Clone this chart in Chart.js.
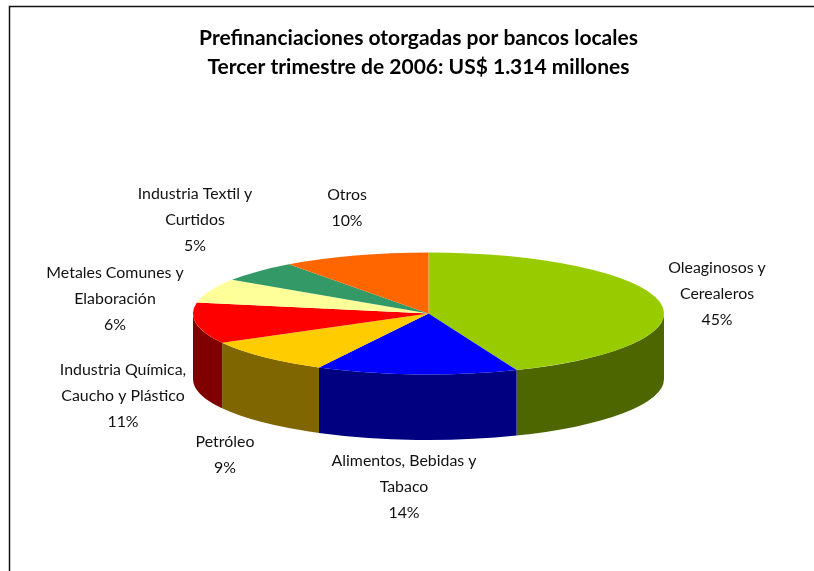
<!DOCTYPE html>
<html><head><meta charset="utf-8">
<style>html,body{margin:0;padding:0;background:#fff}canvas{display:block}</style>
<script src="https://cdn.jsdelivr.net/npm/chart.js@4"></script></head>
<body><canvas id="c" width="814" height="571"></canvas>
<script>
const titleLines = ["Prefinanciaciones otorgadas por bancos locales","Tercer trimestre de 2006: US$ 1.314 millones"];
const categories = [["Oleaginosos y","Cerealeros"],["Alimentos, Bebidas y","Tabaco"],["Petróleo"],["Industria Química,","Caucho y Plástico"],["Metales Comunes y","Elaboración"],["Industria Textil y","Curtidos"],["Otros"]];
const shownPercents = ["45%","14%","9%","11%","6%","5%","10%"];
const sliceValues = [43.9,13.8,9.3,10.9,6.4,5.6,10.1];
const topColors = ["#99CC00","#0000FF","#FFCC00","#FF0000","#FFFF99","#339966","#FF6600"];
const sideColors = ["#4D6600","#000080","#806600","#800000","#80804D","#1A4D33","#803300"];
const labelAnchors = [[717,268],[404,461],[225,442],[123,370],[115,273],[195,194],[347,195]];
const LINE_GAP = 26, SQUASH = 61/235.5, DEPTH = 65.5;

const pie3d = {
  id:'pie3d',
  afterLayout(chart){ chart.titleBlock.left -= 20; },
  beforeDatasetsDraw(chart){
    const ctx = chart.ctx, arcs = chart.getDatasetMeta(0).data;
    ctx.save();
    arcs.forEach((a,i)=>{
      const s = Math.max(a.startAngle,0), e = Math.min(a.endAngle,Math.PI);
      if (e <= s) return;
      const r = a.outerRadius, ry = r*SQUASH;
      ctx.beginPath();
      ctx.ellipse(a.x,a.y,r,ry,0,s,e,false);
      ctx.ellipse(a.x,a.y+DEPTH,r,ry,0,e,s,true);
      ctx.closePath();
      ctx.fillStyle = sideColors[i];
      ctx.fill();
    });
    ctx.restore();
    const a0 = arcs[0];
    ctx.save();
    ctx.translate(a0.x,a0.y); ctx.scale(1,SQUASH); ctx.translate(-a0.x,-a0.y);
  },
  afterDatasetsDraw(chart){
    const ctx = chart.ctx;
    ctx.restore();
    ctx.save();
    ctx.strokeStyle='#111'; ctx.lineWidth=1.5;
    ctx.beginPath();
    ctx.moveTo(9.5,571); ctx.lineTo(9.5,6.5); ctx.lineTo(814,6.5);
    ctx.stroke();
    ctx.fillStyle='#111';
    ctx.font='15.9px Lato';
    ctx.textAlign='center'; ctx.textBaseline='middle';
    categories.forEach((lines,i)=>{
      const [x,y]=labelAnchors[i];
      [...lines,shownPercents[i]].forEach((t,k)=>ctx.fillText(t,x,y+k*LINE_GAP));
    });
    ctx.restore();
  }
};
new Chart(document.getElementById('c'),{
  type:'pie',
  data:{labels:categories.map(l=>l.join(' ')),datasets:[{data:sliceValues,backgroundColor:topColors,borderWidth:0,hoverOffset:0}]},
  options:{
    responsive:false,animation:false,
    layout:{padding:{left:193,right:150,top:0,bottom:12}},
    plugins:{
      legend:{display:false},tooltip:{enabled:false},
      title:{display:true,text:titleLines,color:'#000',font:{family:'Lato',size:21,weight:'bold',lineHeight:1.38},padding:{top:24,bottom:-14}}
    }
  },
  plugins:[pie3d]
});
</script></body></html>
